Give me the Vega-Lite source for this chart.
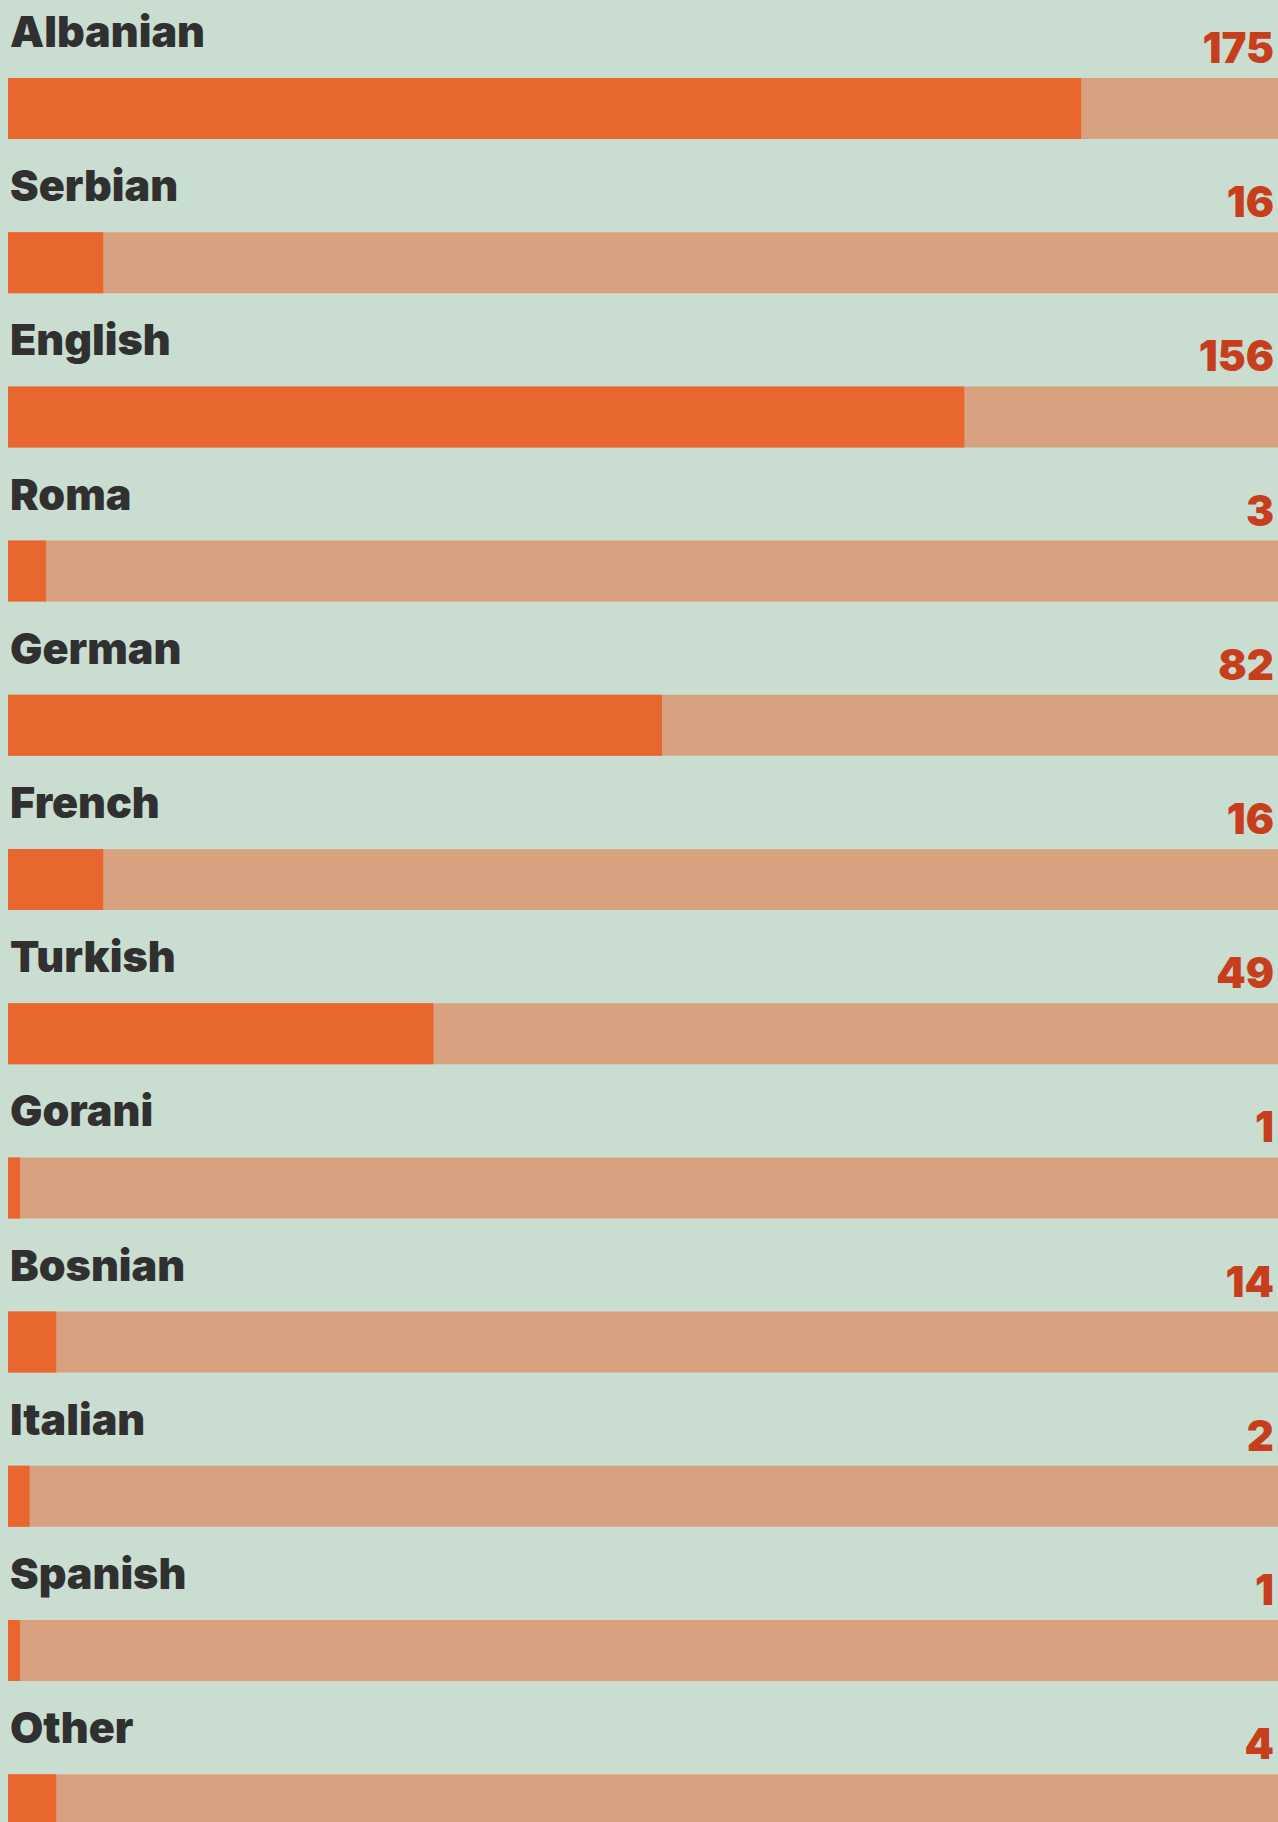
{
  "$schema": "https://vega.github.io/schema/vega-lite/v6.json",
  "width": 1278,
  "height": 1822,
  "padding": 0,
  "autosize": {"type": "none"},
  "background": "#CADDD1",
  "config": {"view": {"stroke": null}},
  "data": {
    "values": [
      {"language": "Albanian", "count": 175, "share": 84.5},
      {"language": "Serbian", "count": 16, "share": 7.5},
      {"language": "English", "count": 156, "share": 75.3},
      {"language": "Roma", "count": 3, "share": 3.0},
      {"language": "German", "count": 82, "share": 51.5},
      {"language": "French", "count": 16, "share": 7.5},
      {"language": "Turkish", "count": 49, "share": 33.5},
      {"language": "Gorani", "count": 1, "share": 0.95},
      {"language": "Bosnian", "count": 14, "share": 3.8},
      {"language": "Italian", "count": 2, "share": 1.7},
      {"language": "Spanish", "count": 1, "share": 0.95},
      {"language": "Other", "count": 4, "share": 3.8}
    ]
  },
  "encoding": {
    "y": {
      "field": "language",
      "type": "nominal",
      "sort": null,
      "axis": null,
      "scale": {"type": "band", "range": [78, 1835.2], "paddingInner": 0.6044, "paddingOuter": 0}
    }
  },
  "layer": [
    {
      "mark": {"type": "bar", "color": "#D8A280", "clip": true},
      "encoding": {
        "x": {"datum": 100, "type": "quantitative", "scale": {"domain": [0, 100], "range": [8, 1278]}, "axis": null}
      }
    },
    {
      "mark": {"type": "bar", "color": "#E8672F", "clip": true},
      "encoding": {
        "x": {"field": "share", "type": "quantitative", "axis": null}
      }
    },
    {
      "mark": {"type": "text", "font": "Inter", "fontWeight": 900, "fontSize": 43, "color": "#303030", "align": "left", "baseline": "alphabetic", "dx": 2, "dy": -31},
      "encoding": {
        "x": {"datum": 0, "type": "quantitative"},
        "y": {"field": "language", "type": "nominal", "sort": null, "bandPosition": 0},
        "text": {"field": "language"}
      }
    },
    {
      "mark": {"type": "text", "font": "Inter", "fontWeight": 900, "fontSize": 42, "color": "#C73E1D", "align": "right", "baseline": "alphabetic", "dx": -4, "dy": -15},
      "encoding": {
        "x": {"datum": 100, "type": "quantitative"},
        "y": {"field": "language", "type": "nominal", "sort": null, "bandPosition": 0},
        "text": {"field": "count"}
      }
    }
  ]
}
